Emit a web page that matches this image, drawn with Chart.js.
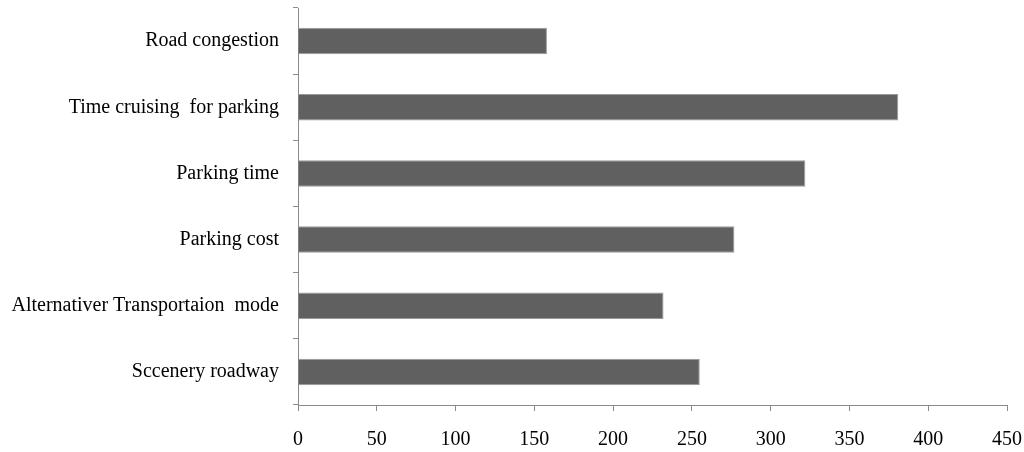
<!DOCTYPE html>
<html>
<head>
<meta charset="utf-8">
<script src="https://cdn.jsdelivr.net/npm/chart.js@4"></script>
<style>
  html, body { margin: 0; padding: 0; background: #fff; }
  #wrap { width: 1024px; height: 452px; }
</style>
</head>
<body>
<div id="wrap"><canvas id="grafico"></canvas></div>
<script>
const categories = ["Road congestion", "Time cruising  for parking", "Parking time", "Parking cost", "Alternativer Transportaion  mode", "Sccenery roadway"];
const values = [158, 381, 322, 277, 232, 255];
const xMin = 0, xMax = 450, xStep = 50;

document.addEventListener("DOMContentLoaded", () => {
    const ctx = document.getElementById("grafico");
    const axisColor = "#8a8a8a";
    const serif = "'Liberation Serif', serif";

    new Chart(ctx, {
        type: "bar",
        data: {
            labels: categories,
            datasets: [{
                data: values,
                backgroundColor: "#606060",
                borderColor: "#9a9a9a",
                borderWidth: 1,
                barPercentage: 0.4,
                categoryPercentage: 1.0
            }]
        },
        options: {
            indexAxis: "y",
            responsive: true,
            maintainAspectRatio: false,
            animation: false,
            layout: { padding: { top: 8, right: 17, left: 0, bottom: 0 } },
            plugins: {
                legend: { display: false },
                tooltip: { enabled: false }
            },
            scales: {
                x: {
                    min: xMin,
                    max: xMax,
                    ticks: {
                        stepSize: xStep,
                        color: "#000",
                        padding: 17,
                        font: { family: serif, size: 20 }
                    },
                    grid: { display: true, drawOnChartArea: false, tickLength: 6, color: axisColor },
                    border: { color: axisColor, width: 1 },
                    afterFit: (s) => { s.height = 47; s.paddingLeft = 0; s.paddingRight = 0; }
                },
                y: {
                    ticks: {
                        color: "#000",
                        padding: 14,
                        font: { family: serif, size: 20 }
                    },
                    grid: { display: true, drawOnChartArea: false, tickLength: 5, color: axisColor, offset: true },
                    border: { color: axisColor, width: 1 },
                    afterFit: (s) => { s.width = 298; s.paddingTop = 0; s.paddingBottom = 0; }
                }
            }
        }
    });
});
</script>
</body>
</html>
